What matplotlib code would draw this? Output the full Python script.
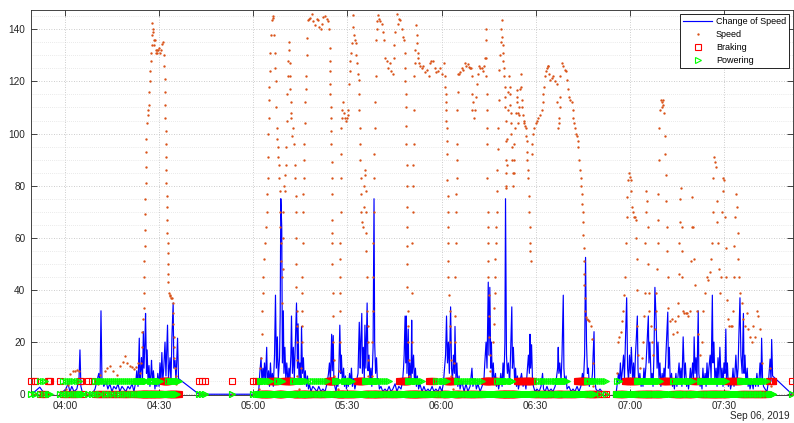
import datetime as dt
import numpy as np
import matplotlib
matplotlib.use('Agg')
import matplotlib.pyplot as plt
import matplotlib.dates as mdates
from matplotlib.ticker import MultipleLocator

plt.rcParams['font.family'] = ['Liberation Sans', 'DejaVu Sans']

BASE = dt.datetime(2019, 9, 6, 4, 0)
NAN = float('nan')

# ---- Speed samples: (minutes after 04:00, km/h) ----
speed_seg_a = [(-10.8,0),(-9.5,0),(-8.0,0),(-6.5,0),(-5.0,0),(-1.6,0),(-0.5,0),(0.5,2),(1.0,3.5),(1.6,7.7),(2.5,8.8),(3.1,9.0),(3.8,9.2),(4.5,9.0),(5.1,5.0),(5.7,0),(7.3,0),(8.6,0),(9.6,0),(10.5,4.0),(11.2,7.3),(12.7,8.8),(13.5,10),(14.3,11.0),(15.3,8.8),(16.6,7.3),(17.5,11.0),(18.5,12.3),(19.1,14.6),(19.8,12.0),(20.7,11.0),(21.4,10.5),(22.0,9.5),(22.7,10.5),(23.3,12.0),(23.9,8.0),(24.3,12),(24.5,18),(24.7,24),(24.9,29),(25.1,33),(25.2,39),(25.3,45),(25.35,51),(25.4,57),(25.45,63),(25.5,69),(25.6,75),(25.7,81),(25.8,87),(25.9,93),(26.0,98),(26.2,104),(26.4,107),(26.6,109),(26.8,111),(26.95,116),(27.1,120),(27.25,124),(27.4,128),(27.5,131),(27.6,134),(27.7,138),(27.8,142.4),(27.95,140),(28.1,139),(28.3,136),(28.5,134),(28.7,136),(28.9,132),(29.1,131),(29.3,132),(29.5,131),(29.8,132),(30.1,133),(30.4,131),(30.7,132),(31.0,134.5),(31.3,135),(31.5,130),(31.7,126),(31.8,121),(31.9,116),(31.95,111),(32.0,106),(32.1,101),(32.15,96),(32.2,91),(32.3,86),(32.35,81),(32.4,76),(32.5,72),(32.55,67),(32.6,62),(32.7,58),(32.75,54),(32.8,50),(32.9,46),(33.0,43),(33.2,39),(33.4,38),(33.6,37.5),(33.9,37),(34.1,37),(34.4,35),(34.5,31),(34.6,27),(34.7,22),(34.8,18),(34.9,14),(35.1,10),(35.3,7),(35.5,4),(35.7,0)]
speed_stop = [(42.7,0),(43.7,0),(44.6,0),(53.2,0),(59.9,0),(60.9,0),(61.5,0)]
speed_seg_b = [(61.8,2),(62.1,6),(62.3,10),(62.5,14),(62.7,23),(62.9,32),(63.05,39),(63.2,45),(63.5,52),(63.7,58),(64.0,64),(64.3,70),(64.45,77),(64.6,83),(64.7,91),(64.8,100),(64.9,106),(65.0,113),(65.15,118),(65.3,124),(65.45,131),(65.6,138),(65.9,143.5),(66.2,144.5),(66.4,145),(66.6,138),(66.9,131),(67.05,125),(67.2,120),(67.3,110),(67.5,102),(67.7,98),(67.9,95),(68.05,91),(68.2,88),(68.3,83),(68.4,78),(68.5,70),(68.65,64),(68.8,58),(68.95,51),(69.1,45),(69.2,35),(69.35,48),(69.5,60),(69.6,70),(69.8,80),(70.1,78),(70.25,84),(70.4,88),(70.6,95),(70.7,105),(70.8,115),(71.0,122),(71.2,128),(71.4,135),(71.5,132),(71.6,127),(71.7,122),(71.8,117),(71.9,112),(72.05,108),(72.2,106),(72.5,99),(72.8,102),(73.1,96),(73.3,88),(73.4,83),(73.5,76),(73.6,70),(73.65,60),(73.7,50),(73.75,41),(73.8,32),(73.85,26),(73.9,20),(74.0,13),(74.1,7),(74.6,2),(75.2,10),(75.4,20),(75.5,26),(75.6,32),(75.65,39),(75.7,45),(75.8,58),(75.9,70),(76.0,77),(76.1,83),(76.2,90),(76.3,96),(76.45,104),(76.6,112),(76.7,117),(76.8,122),(77.0,130),(77.2,136.5),(77.5,143.5),(77.8,144),(78.1,144.5),(78.6,145.8),(79.1,143),(79.7,141.5),(80.2,144),(80.7,143.5),(81.1,141),(81.5,140),(81.9,142),(82.3,144.7),(82.9,145),(83.4,144),(83.8,143),(84.2,140),(84.4,133),(84.45,128),(84.5,124),(84.55,119),(84.6,115),(84.7,110),(84.8,106),(84.85,101),(84.9,96),(84.95,89),(85.0,83),(85.05,77),(85.1,67),(85.15,62),(85.2,58),(85.25,50),(85.3,39),(85.4,30),(85.5,20),(85.6,13),(85.7,7),(86.4,0),(87.1,2),(87.4,9),(87.5,20),(87.6,32),(87.65,39),(87.7,45),(87.75,52),(87.8,58),(87.85,70),(87.9,83),(88.0,92),(88.1,102),(88.25,106),(88.4,109),(88.7,112),(89.0,108),(89.2,106),(89.5,105),(89.8,106),(90.1,107),(90.3,109),(90.6,119),(90.8,124),(91.0,128),(91.2,131),(91.4,134.6),(91.7,145.4),(91.9,141),(92.1,138),(92.4,136),(92.7,134.6),(92.9,130),(93.1,127),(93.4,123),(93.6,120.5),(93.7,115),(93.8,109),(93.9,102),(94.0,96),(94.15,90),(94.3,83),(94.4,77),(94.5,70),(94.8,66),(95.1,64),(95.3,72),(95.4,80),(95.6,84),(95.7,86),(95.8,78),(95.9,70),(96.0,62),(96.05,55),(96.2,45),(96.3,32),(96.45,26),(96.6,20),(96.65,13),(96.7,7),(97.2,0),(97.7,7),(97.9,20),(98.1,32),(98.15,45),(98.2,58),(98.35,70),(98.5,83),(98.6,92),(98.7,102),(98.85,112),(99.0,122),(99.1,136),(99.3,140),(99.5,143),(99.8,145.4),(100.1,144),(100.4,143),(100.9,142),(101.4,139),(101.7,136),(102.0,129),(102.5,128),(103.0,125),(103.6,127),(104.0,124),(104.4,123),(104.8,129),(105.0,134),(105.2,139),(105.7,146),(106.2,142),(106.5,144),(106.8,143.5),(107.3,140),(107.7,137),(108.0,136),(108.3,131),(108.4,125),(108.5,120),(108.55,115),(108.6,110),(108.7,103),(108.8,96),(108.85,88),(108.9,80),(108.95,72),(109.0,64),(109.05,57),(109.1,50),(109.15,41),(109.2,32),(109.3,26),(109.4,20),(109.5,13),(109.6,7),(110.1,5),(110.5,20),(110.6,39),(110.7,58),(110.8,70),(110.9,80),(111.0,88),(111.1,96),(111.2,109),(111.3,122),(111.45,127),(111.6,132),(111.8,141.5),(112.1,138),(112.2,134.6),(112.4,131),(112.6,129),(112.8,127),(113.3,126),(113.7,125),(114.2,126),(114.9,123.5),(115.5,124.5),(116.0,122),(116.3,127),(116.8,128),(117.4,128),(117.9,125),(118.4,123.5),(119.0,124),(119.5,125),(120.2,123),(120.9,127),(121.1,122),(121.2,118),(121.3,115),(121.35,112),(121.4,109),(121.5,105),(121.6,102),(121.7,97),(121.8,92),(121.9,82),(121.95,76),(122.0,70),(122.05,64),(122.1,58),(122.15,51),(122.2,45),(122.4,38),(122.7,32),(122.75,26),(122.8,20),(122.9,13),(123.0,7),(123.6,2),(124.1,12),(124.2,20),(124.3,30),(124.4,45),(124.5,58),(124.6,70),(124.7,77),(124.8,83),(124.85,90),(124.9,96),(125.0,109),(125.15,116),(125.3,123),(125.6,123),(125.9,123.5),(126.4,125),(126.9,124.5),(127.5,127),(127.9,126),(128.3,126.5),(128.7,125.5),(129.0,125),(129.4,125),(129.6,122),(129.7,115),(129.8,109),(130.1,112),(130.3,106),(130.7,109),(131.0,114),(131.2,119),(131.6,123),(131.9,126),(132.3,125),(132.8,125),(133.2,124),(133.5,126),(133.8,129),(134.1,140),(134.2,136),(134.25,129),(134.3,122),(134.35,115),(134.4,109),(134.45,102),(134.5,96),(134.6,83),(134.7,70),(134.75,64),(134.8,58),(134.85,51),(134.9,45),(135.0,38),(135.1,30),(135.25,22),(135.4,15),(135.6,9),(135.8,5),(136.2,5),(136.5,20),(136.65,27),(136.8,33),(136.9,39),(137.0,45),(137.15,52),(137.3,58),(137.45,64),(137.6,70),(137.7,78),(137.8,86),(137.95,94),(138.1,102),(138.2,113),(138.4,124.5),(138.6,130),(138.8,135),(139.0,140),(139.2,143.5),(139.3,137),(139.45,134),(139.6,131),(139.7,128),(139.8,125),(140.0,122),(140.1,118),(140.2,114),(140.3,110),(140.4,105),(140.45,97),(140.5,90),(140.55,85),(140.6,80),(140.7,79),(140.8,88),(140.9,98),(141.1,109),(141.3,116),(141.5,122),(141.7,118),(141.8,115),(141.95,111),(142.1,108),(142.2,104),(142.3,100),(142.45,95),(142.6,90),(142.75,85),(142.9,80),(143.0,85),(143.1,90),(143.25,96),(143.4,102),(143.6,108),(143.9,116.6),(144.05,114),(144.2,112),(144.35,108),(144.5,104),(144.65,107),(144.8,110),(145.0,117),(145.2,123),(145.35,118),(145.5,113),(145.7,110),(145.9,107),(146.15,105),(146.4,104),(146.6,103),(146.8,102),(147.0,99),(147.1,97),(147.25,93),(147.4,90),(147.5,86),(147.6,83),(147.8,76),(148.0,70),(148.1,64),(148.2,58),(148.35,55),(148.5,51),(148.7,92),(148.95,96),(149.2,100),(149.6,102),(150.1,104),(150.5,105),(150.8,106),(151.3,107),(151.9,109),(152.2,112),(152.4,115),(152.6,118),(152.9,122),(153.2,124),(153.5,125),(153.8,126),(154.0,126),(154.3,123),(154.6,120.5),(155.1,121.5),(155.6,122),(156.2,120),(156.7,119),(156.9,112),(157.0,102),(157.3,104),(157.5,106),(157.7,110),(157.8,114),(157.9,122),(158.3,127),(158.8,126),(159.3,124.5),(159.7,124),(160.1,120.5),(160.4,117),(160.7,114),(161.1,113),(161.5,112),(161.8,109),(162.0,106),(162.3,104),(162.5,102),(162.8,100),(163.1,99),(163.4,97),(163.6,95),(163.9,90),(164.1,86),(164.3,83),(164.5,80),(164.7,77),(164.85,73),(165.0,70),(165.1,66),(165.2,61),(165.25,56),(165.3,51),(165.4,46),(165.5,42),(165.6,37),(165.7,32),(166.0,29.5),(166.4,29),(166.75,28.5),(167.1,28),(167.5,26),(167.9,21),(168.2,12),(168.4,3),(168.9,0),(170.5,0),(172.4,0),(175.6,0)]
speed_seg_c = [(175.9,8),(176.3,20),(176.7,22),(177.1,24),(177.5,28),(177.9,32),(178.2,38),(178.5,45),(178.8,58),(179.0,68),(179.2,75.6),(179.5,82),(179.8,85),(180.1,83.5),(180.3,82),(180.5,78),(180.8,72),(181.0,70),(181.3,68),(181.7,68),(182.0,67),(182.1,60),(182.2,52),(182.3,40),(182.4,26),(182.6,15),(183.3,10),(183.9,14),(184.3,20),(184.6,30),(184.8,39),(184.95,58),(185.1,70),(185.3,78),(185.5,74),(185.7,64),(185.8,50),(186.0,39),(186.2,32),(186.6,26),(187.0,20),(187.5,15),(188.0,25),(188.3,32),(188.5,39),(188.7,48),(188.9,58),(189.0,67),(189.1,77),(189.2,90),(189.4,102),(189.6,109),(189.9,113),(190.1,112),(190.3,110),(190.5,111),(190.7,113),(191.0,108),(191.2,99),(191.3,92),(191.4,84),(191.55,74),(191.7,64),(191.9,55),(192.1,45),(192.3,33),(192.8,28),(193.3,29),(193.9,23),(194.4,28),(194.9,24),(195.2,30),(195.4,35),(195.55,46),(195.7,58),(195.85,66),(196.0,75),(196.3,79),(196.5,64),(196.6,55),(196.7,45),(197.0,32),(197.4,31),(197.8,31),(198.1,31),(198.6,30),(199.2,32),(199.5,51),(199.7,64),(199.9,75.6),(200.2,64),(200.5,52),(200.8,42),(201.3,32),(201.8,23),(202.4,15),(202.9,20),(203.4,32),(203.9,39),(204.5,45),(205.0,44),(205.5,47),(205.8,52),(206.1,58),(206.4,70),(206.6,83),(206.9,91),(207.2,89),(207.4,87),(207.7,74),(207.9,66),(208.2,58),(208.45,48),(208.7,39),(209.1,45),(209.3,70),(209.6,78),(209.8,83),(210.0,82),(210.3,68),(210.5,56),(210.7,45),(210.9,36),(211.2,29),(211.6,26),(212.1,26),(212.5,26),(213.0,32),(213.15,45),(213.3,57),(213.5,68),(213.7,77),(214.1,72),(214.35,62),(214.6,52),(214.85,45),(215.1,39),(215.6,35),(216.2,29),(216.7,26),(217.2,31),(217.7,25),(218.3,22),(218.8,20),(219.3,26),(219.9,22),(220.4,32),(220.9,30),(221.5,25),(222.0,12),(222.4,5),(223.4,0),(224.7,10),(225.0,3),(225.6,0),(231.7,0)]

# ---- Change of speed: (minutes after 04:00, value); NaN = logging gap ----
change_seg_a = [(-10.8,0),(-9.6,1),(-8.0,2.7),(-7.0,1),(-6.4,1),(-5.4,0),(-4.8,0),(-3.2,NAN),(-1.6,0),(-0.6,1),(0.3,2),(1.0,4),(1.6,1),(2.2,3),(2.9,1),(3.8,2),(4.5,6),(4.8,17),(5.1,3),(5.7,0),(6.7,NAN),(7.3,0),(8.6,0),(9.6,2),(10.2,5),(10.8,8),(11.2,4),(11.5,32),(11.8,6),(12.4,3),(13.1,5),(13.7,2),(14.3,4),(15.0,1),(15.6,3),(16.3,2),(16.9,4),(17.5,1),(18.2,3),(18.8,2),(19.4,1),(20.1,3),(20.7,2),(21.4,4),(22.0,1),(22.6,5),(22.9,9),(23.3,3),(23.7,21.5),(23.9,6),(24.2,10),(24.4,14),(24.7,4),(25.0,24),(25.2,10),(25.5,20),(25.7,31),(26.0,8),(26.2,17),(26.5,5),(26.8,11),(27.1,3),(27.4,8),(27.6,13),(27.9,4),(28.2,9),(28.7,2),(29.0,6),(29.3,3),(29.6,8),(30.0,3),(30.3,12),(30.6,4),(30.9,16),(31.2,5),(31.5,10),(31.9,20),(32.2,7),(32.5,18),(32.7,26.5),(33.0,6),(33.5,14),(33.8,4),(34.1,22),(34.5,35),(34.7,10),(35.1,13),(35.4,5),(35.7,15),(35.9,21.5),(36.2,6)]
change_stop = [(42.7,0),(43.7,0),(44.6,0),(53.2,0),(59.9,0),(60.9,0),(61.5,1)]
change_seg_b = [(61.8,2),(62.1,8),(62.5,14),(62.8,4),(63.1,10),(63.4,6),(63.6,12),(63.9,5),(64.3,18),(64.5,4),(64.9,9),(65.2,3),(65.5,12),(65.8,4),(66.1,8),(66.4,3),(66.8,15),(67.1,38),(67.4,10),(67.7,22),(68.0,6),(68.4,14),(68.6,30),(68.8,75),(69.1,64),(69.3,12),(69.6,32),(69.8,8),(70.1,18),(70.4,5),(70.7,12),(71.1,4),(71.4,10),(71.7,6),(72.0,15),(72.2,30),(72.5,8),(72.8,18),(73.1,6),(73.5,22),(73.8,35),(74.1,10),(74.3,27),(74.6,5),(74.9,12),(75.2,6),(75.4,26),(75.7,8),(76.0,14),(76.3,4),(76.6,9),(77.0,3),(77.3,7),(77.6,2),(77.9,4),(78.4,1),(79.0,3),(79.7,2),(80.3,1),(80.9,3),(81.6,1),(82.2,2),(82.9,1),(83.5,4),(84.0,8),(84.3,12),(84.6,5),(85.0,23),(85.2,9),(85.5,22.5),(85.7,6),(86.0,3),(86.4,1),(86.7,5),(87.0,3),(87.3,10),(87.6,26.5),(87.9,8),(88.1,15),(88.4,5),(88.8,10),(89.1,3),(89.4,7),(89.7,2),(90.0,6),(90.3,3),(90.7,8),(91.0,4),(91.3,10),(91.6,3),(91.9,6),(92.4,2),(92.9,5),(93.4,8),(93.8,27.6),(94.1,10),(94.3,20),(94.6,31),(94.8,8),(95.1,18),(95.4,6),(95.6,26.5),(95.9,10),(96.3,35),(96.6,9),(96.9,15),(97.2,4),(97.5,10),(97.8,3),(98.2,18),(98.5,75),(98.7,20),(99.0,8),(99.3,14),(99.6,4),(99.9,6),(100.2,2),(100.7,3),(101.3,1),(102.0,2),(102.6,1),(103.3,3),(103.9,1),(104.5,2),(105.2,4),(105.8,1),(106.4,3),(107.1,2),(107.6,5),(107.9,10),(108.1,15),(108.4,30),(108.6,12),(108.8,30),(109.0,8),(109.4,25),(109.6,6),(109.9,12),(110.3,5),(110.5,28.4),(110.7,8),(111.1,15),(111.4,4),(111.7,10),(112.0,3),(112.3,7),(112.7,2),(113.1,4),(113.8,1),(114.4,3),(115.0,1),(115.7,2),(116.3,1),(117.0,3),(117.6,1),(118.2,2),(118.9,1),(119.5,3),(120.1,1),(120.6,4),(120.9,9),(121.3,15),(121.6,30),(121.9,12),(122.2,20),(122.5,8),(122.9,33.5),(123.2,10),(123.5,5),(123.8,15),(124.1,8),(124.3,26),(124.6,6),(124.9,12),(125.2,3),(125.6,7),(125.9,2),(126.5,5),(127.2,1),(127.8,4),(128.4,1),(129.1,3),(129.7,10),(130.0,3),(130.7,6),(131.1,2),(131.6,4),(132.3,1),(132.9,3),(133.5,5),(133.8,12),(134.2,20),(134.5,10),(134.9,43),(135.1,15),(135.4,41),(135.7,10),(135.9,20),(136.2,5),(136.5,12),(136.8,4),(137.2,8),(137.5,3),(137.8,6),(138.2,2),(138.6,5),(138.9,8),(139.3,3),(139.6,12),(139.9,5),(140.2,20),(140.4,75),(140.7,15),(141.0,8),(141.3,12),(141.7,4),(142.0,15),(142.4,33.5),(142.6,10),(142.9,18),(143.3,5),(143.6,10),(143.9,3),(144.2,7),(144.5,2),(145.0,5),(145.5,8),(146.0,3),(146.4,6),(146.9,2),(147.4,10),(147.7,15),(148.0,8),(148.2,23),(148.4,10),(148.7,19),(149.0,5),(149.3,3),(149.8,1),(150.4,2),(151.1,1),(151.7,3),(152.2,8),(152.5,2),(153.0,1),(153.6,3),(154.2,1),(154.9,2),(155.5,1),(156.2,3),(156.6,6),(157.0,10),(157.2,18),(157.4,8),(157.7,12),(158.1,5),(158.4,15),(158.8,38),(159.0,10),(159.3,4),(159.7,7),(160.0,2),(160.6,3),(161.3,1),(161.9,2),(162.5,1),(163.2,3),(163.8,1),(164.4,3),(164.9,8),(165.2,4),(165.6,15),(165.9,52.5),(166.2,20),(166.5,8),(166.8,10),(167.1,3),(167.5,6),(167.8,4),(168.1,8),(168.6,24),(168.8,6),(169.2,2),(169.9,1),(170.5,2),(171.1,1),(171.8,1),(172.4,0),(174.0,NAN),(175.6,0)]
change_seg_c = [(175.9,3),(176.4,8),(176.7,4),(177.0,12),(177.3,5),(177.7,10),(178.0,15),(178.3,6),(178.6,20),(179.0,37),(179.3,10),(179.6,5),(179.9,15),(180.2,8),(180.5,18),(180.9,5),(181.2,12),(181.5,4),(181.8,15),(182.1,22),(182.4,30),(182.6,10),(182.9,4),(183.2,8),(183.6,3),(183.9,6),(184.2,3),(184.5,10),(184.8,5),(185.2,12),(185.5,20),(185.9,30),(186.1,12),(186.4,20),(186.8,5),(187.1,8),(187.4,3),(187.7,15),(188.0,41),(188.4,28),(188.7,10),(189.0,20),(189.3,6),(189.6,12),(189.9,3),(190.3,8),(190.6,4),(190.9,10),(191.2,6),(191.5,15),(192.1,31.5),(192.3,10),(192.6,18),(192.9,4),(193.3,8),(193.6,3),(193.9,6),(194.2,2),(194.7,8),(195.0,3),(195.3,6),(195.7,12),(196.0,5),(196.3,10),(196.6,3),(197.0,22),(197.4,6),(197.7,12),(198.1,3),(198.4,6),(198.7,2),(199.0,5),(199.3,10),(199.6,4),(200.0,12),(200.3,6),(200.5,22),(200.8,8),(201.1,14),(201.4,5),(201.8,32),(202.0,8),(202.4,3),(202.7,6),(203.0,2),(203.3,10),(203.6,4),(204.0,8),(204.3,3),(204.6,12),(204.9,4),(205.2,10),(205.6,15),(205.9,6),(206.3,38),(206.5,12),(206.8,20),(207.1,5),(207.5,10),(207.8,3),(208.1,14),(208.4,6),(208.7,18),(209.1,5),(209.4,10),(209.7,3),(210.0,12),(210.3,8),(210.6,25),(210.8,6),(211.1,12),(211.4,3),(211.8,6),(212.1,2),(212.6,5),(212.9,10),(213.2,3),(213.5,8),(213.8,15),(214.2,5),(214.5,10),(214.7,20),(215.1,37),(215.4,15),(215.8,8),(216.2,31),(216.4,8),(216.7,15),(217.0,4),(217.4,10),(217.7,3),(218.0,6),(218.3,2),(218.9,5),(219.3,2),(219.6,6),(220.1,3),(220.5,8),(220.9,3),(221.2,6),(221.5,12),(221.8,5),(222.0,21.5),(222.3,6),(222.6,3),(223.1,2),(223.7,1),(224.2,5),(224.7,13.5),(225.0,5),(225.2,21),(225.5,7),(231.7,0)]

# ---- Operating state intervals (minutes after 04:00); flag level 5 when active ----
powering_intervals = [(-8.6,-6.4),(-0.6,4.5),(8.9,26.1),(27.1,30.3),(32.8,36.6),(62.0,65.3),(67.6,69.5),(72.7,77.1),(78.1,83.5),(86.0,87.6),(88.6,91.8),(95.6,103.6),(109.1,114.1),(117.9,121.7),(124.9,133.2),(137.7,142.8),(150.4,160.3),(166.3,172.7),(175.8,176.9),(182.3,189.6),(193.8,200.1),(202.4,210.9),(215.1,223.7)]
braking_intervals = [(-10.9,-8.7),(-6.3,-4.7),(-2.2,-0.7),(4.6,5.2),(7.2,8.7),(31.2,32.75),(41.0,45.5),(52.5,53.5),(59.5,61.7),(65.4,67.5),(69.6,72.5),(83.6,85.8),(93.0,95.5),(106.5,109.0),(116.0,117.8),(121.8,124.2),(133.4,137.6),(144.2,149.0),(163.2,166.2),(178.5,182.2),(190.3,193.7),(200.2,202.3),(211.0,215.0),(223.8,226.0),(230.0,232.0)]
FLAG_ON = 5

date_label = 'Sep 06, 2019'
x_tick_minutes = [0, 30, 60, 90, 120, 150, 180, 210]
x_limits = (-10.8, 232.0)
y_limits = (-0.3, 147.4)


def to_time(mins):
    return [BASE + dt.timedelta(minutes=float(m)) for m in mins]


def in_any(m, intervals):
    return any(a <= m <= b for a, b in intervals)


speed_pts = speed_seg_a + speed_stop + speed_seg_b + speed_seg_c
change_pts = change_seg_a + change_stop + change_seg_b + change_seg_c
speed_m = [p[0] for p in speed_pts]
speed_v = [p[1] for p in speed_pts]
change_m = [p[0] for p in change_pts]
change_v = [p[1] for p in change_pts]

# control-log samples (taken with the change-of-speed record) and speed-log samples
ctrl_m = [m for m, v in change_pts if not np.isnan(v)]
all_m = sorted(set(ctrl_m) | set(speed_m))

# braking flag is logged at every sample
braking_v = [FLAG_ON if in_any(m, braking_intervals) else 0 for m in all_m]
# powering notch: "on" records come from the control log, idle records from the speed log
pow_m = []
pow_v = []
for m in ctrl_m:
    pow_m.append(m)
    pow_v.append(FLAG_ON if in_any(m, powering_intervals) else 0)
for m in speed_m:
    pow_m.append(m)
    pow_v.append(0)

fig = plt.figure(figsize=(7.94, 4.23), dpi=100)
ax = fig.add_axes([31 / 794, 1 - 395 / 423, 762 / 794, 385 / 423])

ax.plot(to_time(change_m), change_v, color=(0, 0, 1), lw=0.85, zorder=2, label='Change of Speed')
ax.plot(to_time(speed_m), speed_v, linestyle='none', marker='o', ms=1.7, mew=0,
        color='#D95319', zorder=3, label='Speed')
ax.plot(to_time(all_m), braking_v, linestyle='none', marker='s', ms=3.8, mfc='none',
        mec=(1, 0, 0), mew=0.8, zorder=4, clip_on=False, label='Braking')
ax.plot(to_time(pow_m), pow_v, linestyle='none', marker='>', ms=4.4, mfc='none',
        mec=(0, 1, 0), mew=0.8, zorder=5, clip_on=False, label='Powering')

ax.set_xlim(to_time(x_limits))
ax.set_ylim(*y_limits)
ax.set_xticks(to_time(x_tick_minutes))
ax.xaxis.set_major_formatter(mdates.DateFormatter('%H:%M'))
ax.yaxis.set_major_locator(MultipleLocator(20))
ax.yaxis.set_minor_locator(MultipleLocator(5))

ax.grid(which='major', linestyle=(0, (1, 2)), color='#bdbdbd', lw=0.6)
ax.grid(which='minor', axis='y', linestyle=(0, (1, 2)), color='#d6d6d6', lw=0.5)
ax.set_axisbelow(True)

ax.tick_params(which='major', direction='in', length=4, width=0.6, top=True, right=True,
               labelsize=7.2, colors='#262626', pad=4)
ax.tick_params(which='minor', length=0, top=False, right=False)
for s in ax.spines.values():
    s.set_color('#262626')
    s.set_linewidth(0.6)

leg = ax.legend(loc='upper right', fontsize=6.5, numpoints=1, handlelength=3.2,
                labelspacing=0.45, borderaxespad=0.4, fancybox=False, framealpha=1,
                edgecolor='black', borderpad=0.35, handletextpad=0.4)
leg.get_frame().set_linewidth(0.6)

fig.text(790 / 794, 1 - 416 / 423, date_label, ha='right', va='center', fontsize=7.2,
         color='#262626')

fig.savefig('out.png', dpi=100)
